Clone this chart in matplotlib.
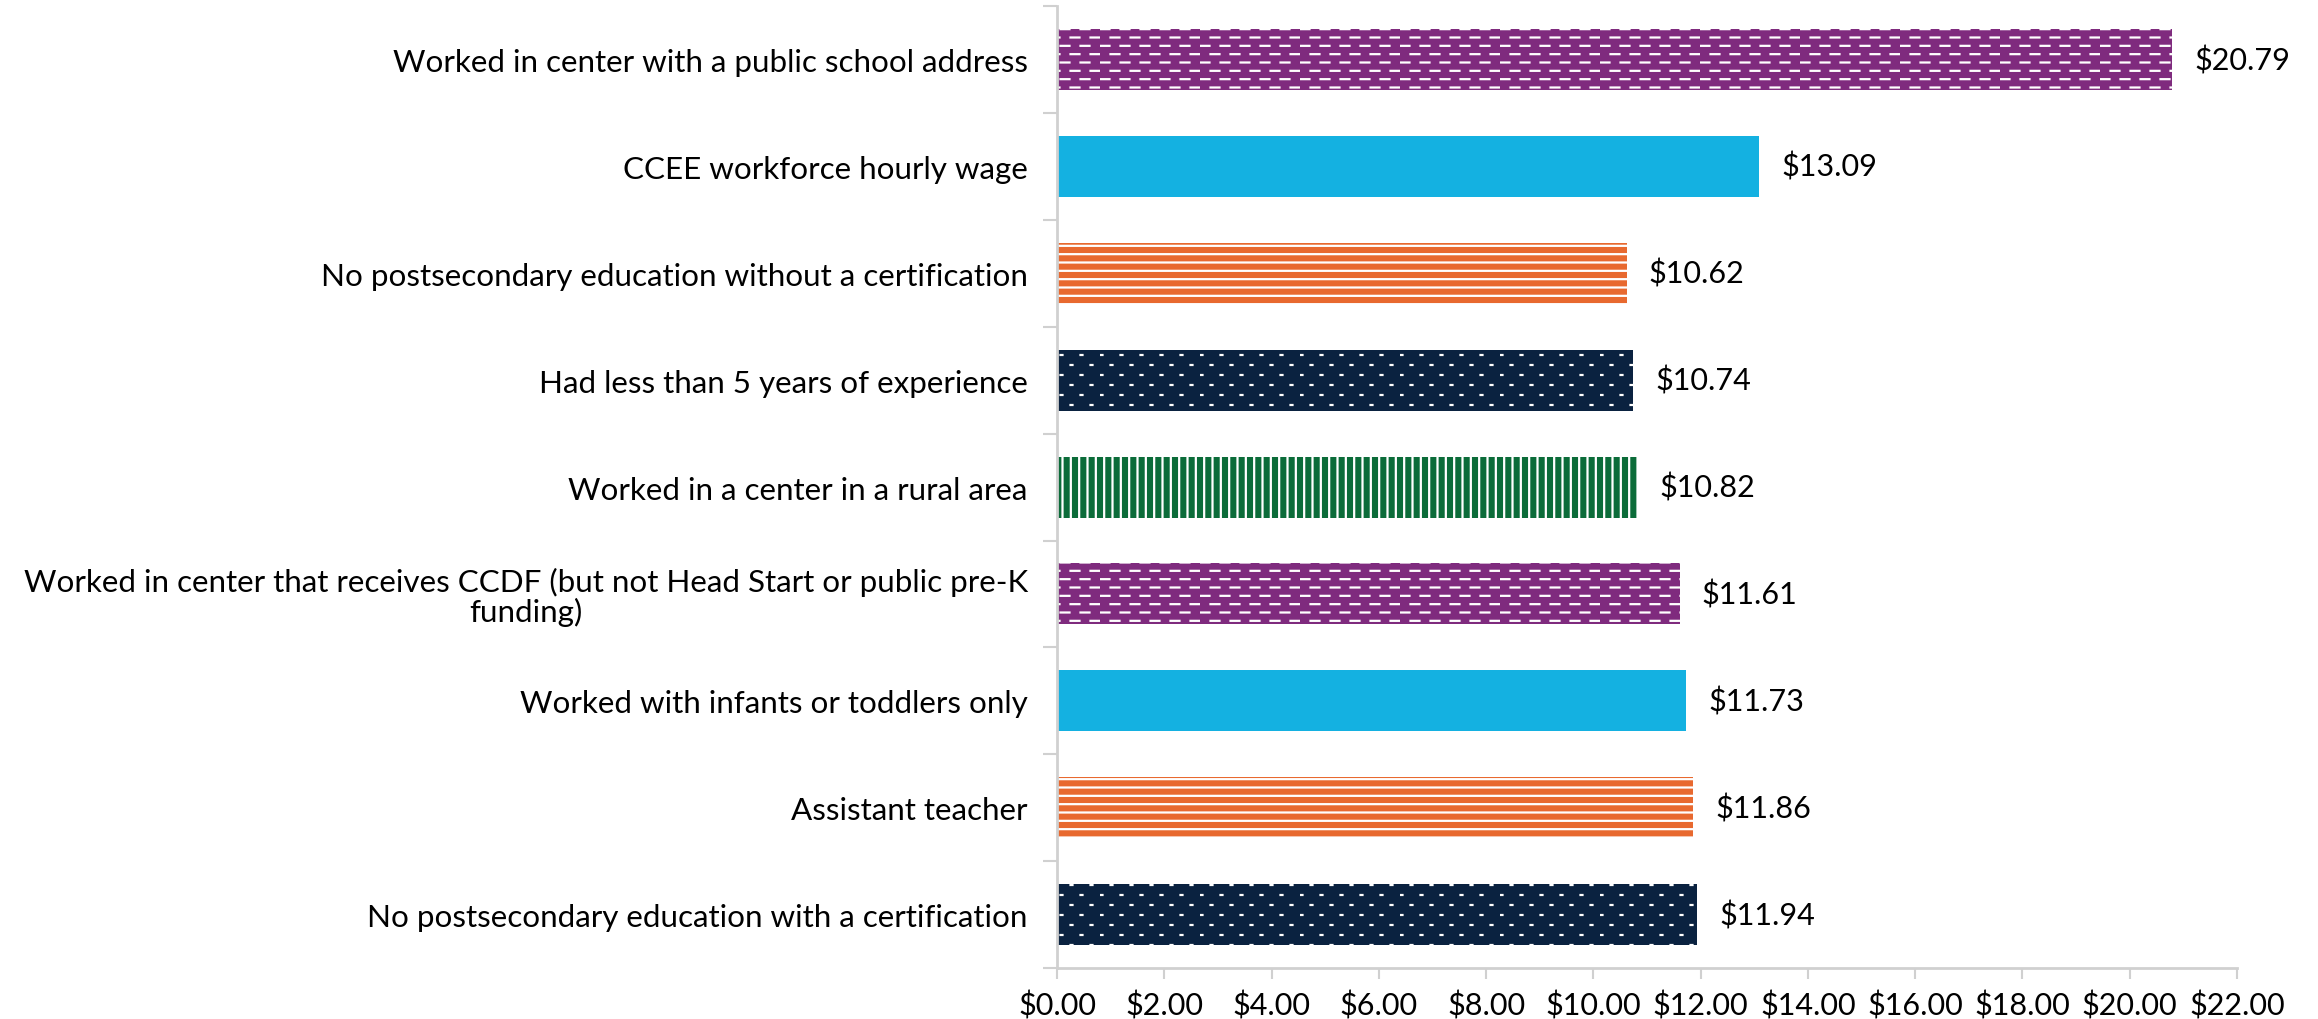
import warnings
import matplotlib
matplotlib.use("Agg")
import matplotlib.pyplot as plt
import matplotlib.hatch as mhatch
from matplotlib.path import Path
import numpy as np
from matplotlib.ticker import FuncFormatter, FixedLocator

warnings.filterwarnings("ignore")
plt.rcParams['font.family'] = ['Lato', 'DejaVu Sans']
plt.rcParams['hatch.linewidth'] = 1.6

categories = [
    "Worked in center with a public school address",
    "CCEE workforce hourly wage",
    "No postsecondary education without a certification",
    "Had less than 5 years of experience",
    "Worked in a center in a rural area",
    "Worked in center that receives CCDF (but not Head Start or public pre-K\nfunding)",
    "Worked with infants or toddlers only",
    "Assistant teacher",
    "No postsecondary education with a certification",
]
values = [20.79, 13.09, 10.62, 10.74, 10.82, 11.61, 11.73, 11.86, 11.94]
colors = ['#7F2B7E', '#14B1E1', '#E8692F', '#0A2240', '#0B6C39',
          '#7F2B7E', '#14B1E1', '#E8692F', '#0A2240']
hatches = ['_', None, '--', ':', '||', '_', None, '--', ':']
xticks = [0, 2, 4, 6, 8, 10, 12, 14, 16, 18, 20, 22]


class StaggeredMarks(mhatch.HatchPatternBase):
    """Staggered dashes ('_') or dots (':') hatch."""
    SPECS = {'_': (12, 5, 0.09), ':': (10, 5, 0.02)}

    def __init__(self, hatch, density):
        self.items = [spec for ch, spec in self.SPECS.items() if ch in hatch]
        self.num_vertices = sum(nr * nc * 2 for nr, nc, _ in self.items)

    def set_vertices_and_codes(self, vertices, codes):
        segs = []
        for nr, nc, L in self.items:
            for r in range(nr):
                y0 = (r + 0.5) / nr
                shift = 0.5 / nc if r % 2 else 0.0
                for c in range(nc):
                    x0 = c / nc + shift + 0.005
                    segs.append(((x0, y0), (x0 + L, y0)))
        vertices[:] = np.array(segs, dtype=float).reshape(-1, 2)
        codes[0::2] = Path.MOVETO
        codes[1::2] = Path.LINETO


mhatch._hatch_types.append(StaggeredMarks)

fig = plt.figure(figsize=(23.18, 10.2), dpi=100)
ax = fig.add_axes([0.456, 0.05, 0.509, 0.943])

y = np.arange(len(categories))
bars = ax.barh(y, values, height=0.57, color=colors, edgecolor='white', linewidth=0)
for b, h in zip(bars, hatches):
    if h:
        b.set_hatch(h)

ax.bar_label(bars, labels=[f"${v:.2f}" for v in values], padding=16, fontsize=22, color='black')

ax.set_ylim(len(categories) - 0.5, -0.5)
ax.set_xlim(0, 22)
ax.set_yticks(y)
ax.set_yticklabels(categories, fontsize=22.6, multialignment='center', linespacing=1.0)
ax.yaxis.set_minor_locator(FixedLocator(np.arange(-0.5, len(categories), 1.0)))
ax.tick_params(axis='y', which='major', length=0, pad=21)
ax.tick_params(axis='y', which='minor', length=10, width=1.5, color='#D0D0D0')
ax.set_xticks(xticks)
ax.xaxis.set_major_formatter(FuncFormatter(lambda v, p: f"${v:.2f}"))
ax.tick_params(axis='x', length=8, width=1.5, color='#D0D0D0', labelsize=22, pad=8)
for s in ['top', 'right']:
    ax.spines[s].set_visible(False)
for s in ['left', 'bottom']:
    ax.spines[s].set_color('#D0D0D0')
    ax.spines[s].set_linewidth(2)

fig.savefig('out.png', dpi=100)
